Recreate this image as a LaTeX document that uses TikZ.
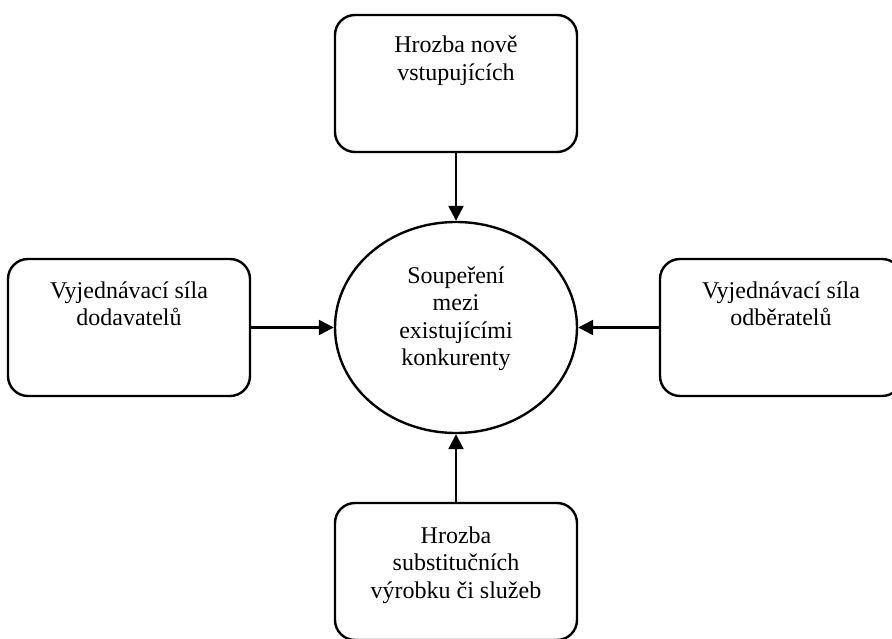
\documentclass[tikz,border=0pt]{standalone}
\usepackage{fontspec}
\setmainfont{Liberation Serif}
\usetikzlibrary{arrows.meta,positioning,shapes.geometric}
\begin{document}
\begin{tikzpicture}[x=1pt,y=-1pt,
    force/.style={draw=black,line width=2.4pt,rounded corners=20pt,minimum width=242pt,minimum height=137pt,inner sep=0pt},
    rivalry/.style={draw=black,line width=2.4pt,ellipse,minimum width=242pt,minimum height=211pt,inner sep=0pt},
    label text/.style={font=\fontsize{24}{27.6}\selectfont,align=center,anchor=base,inner sep=0pt},
    push/.style={line width=2.4pt,-{Triangle[length=15pt,width=15pt]}}]
    \useasboundingbox (0,0) rectangle (892,639);
    \clip (0,0) rectangle (892,639);
    \node[force] (entry) at (456,83.5) {};
    \node[force] (supply) at (129,327.5) {};
    \node[force] (buyer) at (781,327.5) {};
    \node[force] (subst) at (456,571.5) {};
    \node[rivalry] (core) at (456,327.5) {};
    \node[label text] (entrytext) at (456,80.6) {Hrozba nově\\vstupujících};
    \node[label text] (supplytext) at (129,325.6) {Vyjednávací síla\\dodavatelů};
    \node[label text] (buyertext) at (781,325.6) {Vyjednávací síla\\odběratelů};
    \node[label text] (substtext) at (456,598.2) {Hrozba\\substitučních\\výrobku či služeb};
    \node[label text] (coretext) at (456,365.8) {Soupeření\\mezi\\existujícími\\konkurenty};
    \draw[push] (entry) -- (core);
    \draw[push] (supply) -- (core);
    \draw[push] (buyer) -- (core);
    \draw[push] (subst) -- (core);
\end{tikzpicture}
\end{document}
